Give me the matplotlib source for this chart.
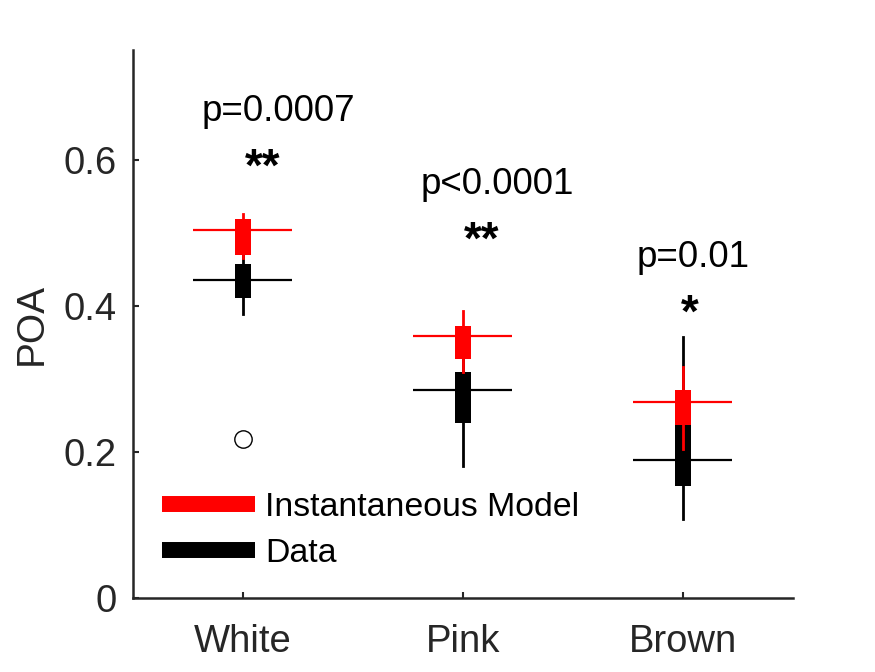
import numpy as np
import matplotlib.pyplot as plt

plt.rcParams['font.family'] = ['Liberation Sans', 'DejaVu Sans']

categories = ['White', 'Pink', 'Brown']

# box stats: lower whisker, q1, median, q3, upper whisker
data_lo = [0.389, 0.181, 0.108]
data_q1 = [0.411, 0.240, 0.153]
data_med = [0.436, 0.285, 0.189]
data_q3 = [0.458, 0.310, 0.260]
data_hi = [0.470, 0.350, 0.358]
data_fliers = [[0.218], [], []]

model_lo = [0.466, 0.310, 0.204]
model_q1 = [0.470, 0.327, 0.237]
model_med = [0.504, 0.359, 0.269]
model_q3 = [0.519, 0.373, 0.285]
model_hi = [0.526, 0.393, 0.316]

p_labels = ['p=0.0007', 'p<0.0001', 'p=0.01']
stars = ['**', '**', '*']

grey = '#262626'

fig = plt.figure(figsize=(8.75, 6.72), dpi=100)
ax = fig.add_axes([0.152, 0.110, 0.754, 0.815])

pos = np.arange(1, len(categories) + 1)


def draw_boxes(lo, q1, med, q3, hi, fliers, color):
    stats = []
    for i in range(len(pos)):
        stats.append(dict(whislo=lo[i], q1=q1[i], med=med[i], q3=q3[i],
                          whishi=hi[i], fliers=fliers[i]))
    ax.bxp(stats, positions=pos, widths=0.073, patch_artist=True,
           showcaps=False,
           boxprops=dict(facecolor=color, edgecolor=color, linewidth=0),
           whiskerprops=dict(color=color, linewidth=2.0),
           medianprops=dict(linewidth=0),
           flierprops=dict(marker='o', markersize=12.5, markerfacecolor='none',
                           markeredgecolor='black', markeredgewidth=1.0))
    ax.hlines(med, pos - 0.225, pos + 0.225, colors=color, linewidth=1.6)


draw_boxes(data_lo, data_q1, data_med, data_q3, data_hi, data_fliers, 'black')
draw_boxes(model_lo, model_q1, model_med, model_q3, model_hi, [[], [], []], 'red')

# p-values and stars
p_x = [1.16, 2.155, 3.045]
p_y = [0.667, 0.566, 0.466]
s_x = [1.09, 2.086, 3.03]
s_y = [0.572, 0.472, 0.371]
for i in range(len(pos)):
    ax.text(p_x[i], p_y[i], p_labels[i], fontsize=26.5, ha='center', va='center')
    ax.text(s_x[i], s_y[i], stars[i], fontsize=33, fontweight='bold',
            ha='center', va='baseline')

ax.set_xlim(0.5, 3.5)
ax.set_ylim(0, 0.75)
ax.set_xticks(pos)
ax.set_xticklabels(categories)
ax.set_yticks([0, 0.2, 0.4, 0.6])
ax.set_yticklabels(['0', '0.2', '0.4', '0.6'])
ax.set_ylabel('POA', fontsize=28, color=grey, labelpad=10)

for side in ['top', 'right']:
    ax.spines[side].set_visible(False)
for side in ['left', 'bottom']:
    ax.spines[side].set_color(grey)
    ax.spines[side].set_linewidth(1.8)
ax.tick_params(direction='in', length=4.5, width=1.5, colors=grey,
               labelsize=27.5)
ax.tick_params(axis='x', pad=19)
ax.tick_params(axis='y', pad=12)

h1, = ax.plot([], [], color='red', linewidth=11.5, solid_capstyle='butt')
h2, = ax.plot([], [], color='black', linewidth=11.5, solid_capstyle='butt')
ax.legend([h1, h2], ['Instantaneous Model', 'Data'], frameon=False,
          fontsize=24.4, handlelength=2.75, handletextpad=0.3,
          labelspacing=0.45, borderpad=0, borderaxespad=0,
          loc='upper left', bbox_to_anchor=(0.185, 0.268),
          bbox_transform=fig.transFigure)

fig.savefig('out.png', dpi=100)
